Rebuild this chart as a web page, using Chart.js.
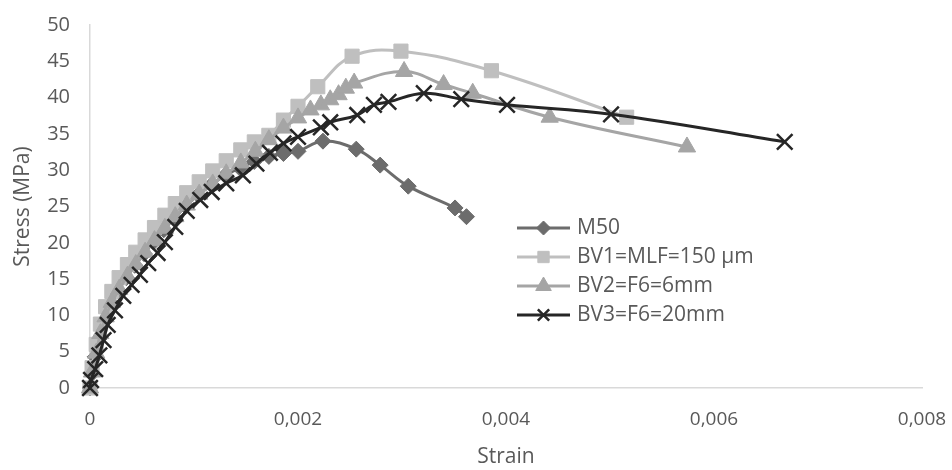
<!DOCTYPE html>
<html>
<head>
<meta charset="utf-8">
<script src="https://cdn.jsdelivr.net/npm/chart.js@4.4.1/dist/chart.umd.min.js"></script>
<style>
  html, body { margin: 0; padding: 0; background: #fff; }
  #wrap { width: 952px; height: 470px; }
</style>
</head>
<body>
<div id="wrap"><canvas id="myChart" width="952" height="470"></canvas></div>
<script>
// series labels
var seriesLabels = ['M50', 'BV1=MLF=150 \u00b5m', 'BV2=F6=6mm', 'BV3=F6=20mm'];

// M50
var m50Strain = [0, 0.00002, 0.00005, 0.00009, 0.00014, 0.0002, 0.00027, 0.00035, 0.00043, 0.00052, 0.00061, 0.00071,
  0.00081, 0.00092, 0.00104, 0.00117, 0.0013, 0.00144, 0.00158, 0.00172, 0.00186, 0.002, 0.00224, 0.00256, 0.00279,
  0.00306, 0.00351, 0.00362];
var m50Stress = [0, 2.0, 4.3, 6.8, 9.2, 11.4, 13.4, 15.2, 16.9, 18.5, 20.1, 21.8,
  23.4, 25.0, 26.6, 28.0, 29.3, 30.3, 31.2, 31.9, 32.3, 32.6, 34.0, 32.9, 30.7,
  27.8, 24.8, 23.6];

// BV1
var bv1Strain = [0, 0.00002, 0.00006, 0.0001, 0.00015, 0.00021, 0.00028, 0.00036, 0.00044, 0.00053, 0.00062, 0.00072,
  0.00082, 0.00093, 0.00105, 0.00118, 0.00131, 0.00145, 0.00158, 0.00172, 0.00186, 0.002, 0.00219, 0.00252, 0.00299,
  0.00386, 0.00516];
var bv1Stress = [0, 2.8, 6.0, 8.8, 11.2, 13.3, 15.2, 17.0, 18.7, 20.4, 22.1, 23.8,
  25.4, 26.9, 28.4, 29.9, 31.3, 32.8, 33.9, 34.8, 36.9, 38.8, 41.5, 45.7, 46.4,
  43.7, 37.3];

// BV2
var bv2Strain = [0, 0.00002, 0.00006, 0.0001, 0.00015, 0.00021, 0.00028, 0.00036, 0.00044, 0.00053, 0.00062, 0.00072,
  0.00082, 0.00093, 0.00105, 0.00118, 0.00131, 0.00145, 0.00159, 0.00172, 0.00186, 0.002, 0.00212, 0.00222, 0.00231,
  0.00239, 0.00246, 0.00254, 0.00302, 0.0034, 0.00368, 0.00442, 0.00574];
var bv2Stress = [0, 2.2, 4.8, 7.5, 9.8, 11.8, 13.6, 15.4, 17.0, 18.7, 20.3, 22.0,
  23.6, 25.2, 26.7, 28.1, 29.5, 31.0, 32.6, 34.2, 35.8, 37.2, 38.3, 39.0, 39.7,
  40.4, 41.3, 42.0, 43.6, 41.8, 40.6, 37.3, 33.2];

// BV3
var bv3Strain = [0, 0.00001, 0.00005, 0.00009, 0.00013, 0.00017, 0.00024, 0.00032, 0.0004, 0.00048, 0.00056, 0.00065,
  0.00072, 0.00082, 0.00093, 0.00106, 0.00117, 0.00131, 0.00147, 0.0016, 0.00173, 0.00186, 0.002, 0.00222, 0.00231,
  0.00257, 0.00273, 0.00287, 0.00321, 0.00357, 0.00401, 0.00501, 0.00668];
var bv3Stress = [0, 1.1, 2.6, 4.5, 6.6, 8.7, 10.7, 12.7, 14.2, 15.6, 17.2, 18.6,
  20.1, 22.2, 24.4, 25.9, 27.0, 28.2, 29.3, 30.9, 32.4, 33.7, 34.6, 35.9, 36.6,
  37.6, 39.0, 39.4, 40.6, 39.8, 39.0, 37.7, 33.9];

// axis ticks
var xTickMin = 0, xTickMax = 0.008, xTickStep = 0.002;
var yTickMin = 0, yTickMax = 50, yTickStep = 5;

function pairs(xs, ys) {
  return xs.map(function (x, i) { return { x: x, y: ys[i] }; });
}

var textColor = '#595959';
var axisColor = '#d9d9d9';

// legend drawn inside the plot, like the original
var legendBox = { lineX0: 517, lineX1: 570, textX: 577, rows: [228, 257, 286, 315] };
var legendRadius = [7, 8, 9, 8];

var insideLegend = {
  id: 'insideLegend',
  afterDraw: function (chart) {
    var ctx = chart.ctx;
    chart.data.datasets.forEach(function (ds, i) {
      var y = legendBox.rows[i];
      ctx.save();
      ctx.strokeStyle = ds.borderColor;
      ctx.lineWidth = 3;
      ctx.beginPath();
      ctx.moveTo(legendBox.lineX0, y);
      ctx.lineTo(legendBox.lineX1, y);
      ctx.stroke();
      ctx.fillStyle = ds.pointBackgroundColor;
      ctx.strokeStyle = ds.pointBorderColor;
      ctx.lineWidth = ds.pointBorderWidth;
      Chart.helpers.drawPoint(ctx, {
        pointStyle: ds.pointStyle,
        radius: legendRadius[i],
        borderWidth: ds.pointBorderWidth,
        rotation: 0
      }, (legendBox.lineX0 + legendBox.lineX1) / 2, y);
      ctx.fillStyle = textColor;
      ctx.font = '21px "Open Sans"';
      ctx.textBaseline = 'middle';
      ctx.textAlign = 'left';
      ctx.fillText(ds.label, legendBox.textX, y);
      ctx.restore();
    });
  }
};

function series(label, xs, ys, color, style, radius, bw, order) {
  return {
    label: label,
    data: pairs(xs, ys),
    borderColor: color,
    backgroundColor: color,
    borderWidth: 3,
    pointStyle: style,
    pointRadius: radius,
    pointBackgroundColor: color,
    pointBorderColor: color,
    pointBorderWidth: bw,
    tension: 0.4,
    clip: false,
    order: order
  };
}

var ctx = document.getElementById('myChart').getContext('2d');
var myChart = new Chart(ctx, {
  type: 'line',
  data: {
    datasets: [
      series(seriesLabels[0], m50Strain, m50Stress, '#6c6c6c', 'rectRot', 8, 1, 4),
      series(seriesLabels[1], bv1Strain, bv1Stress, '#bfbfbf', 'rect', 10, 1, 3),
      series(seriesLabels[2], bv2Strain, bv2Stress, '#a5a5a5', 'triangle', 10, 1, 2),
      series(seriesLabels[3], bv3Strain, bv3Stress, '#262626', 'crossRot', 11, 2.5, 1)
    ]
  },
  options: {
    responsive: false,
    animation: false,
    layout: { padding: { top: 25, right: 30, bottom: 0, left: 0 } },
    plugins: {
      legend: { display: false },
      tooltip: { enabled: false }
    },
    scales: {
      x: {
        type: 'linear',
        min: xTickMin,
        max: xTickMax,
        grid: { display: false, drawTicks: false },
        border: { display: true, color: axisColor, width: 1.5 },
        ticks: {
          stepSize: xTickStep,
          padding: 20,
          color: textColor,
          font: { family: 'Open Sans', size: 19 },
          callback: function (v) { return v === 0 ? '0' : v.toFixed(3).replace('.', ','); }
        },
        title: {
          display: true,
          text: 'Strain',
          color: textColor,
          font: { family: 'Open Sans', size: 21 },
          padding: { top: 0, bottom: 0 }
        },
        afterFit: function (scale) {
          scale.height = 82;
          scale.paddingLeft = 0;
          scale.paddingRight = 0;
        }
      },
      y: {
        min: yTickMin,
        max: yTickMax,
        grid: { display: false, drawTicks: false },
        border: { display: true, color: axisColor, width: 1.5 },
        ticks: {
          stepSize: yTickStep,
          padding: 20,
          color: textColor,
          font: { family: 'Open Sans', size: 20 }
        },
        title: {
          display: true,
          text: 'Stress (MPa)',
          color: textColor,
          font: { family: 'Open Sans', size: 21 },
          padding: { top: 10, bottom: 0 }
        },
        afterFit: function (scale) {
          scale.width = 90;
          scale.paddingTop = 0;
          scale.paddingBottom = 0;
        }
      }
    }
  },
  plugins: [insideLegend]
});
</script>
</body>
</html>
